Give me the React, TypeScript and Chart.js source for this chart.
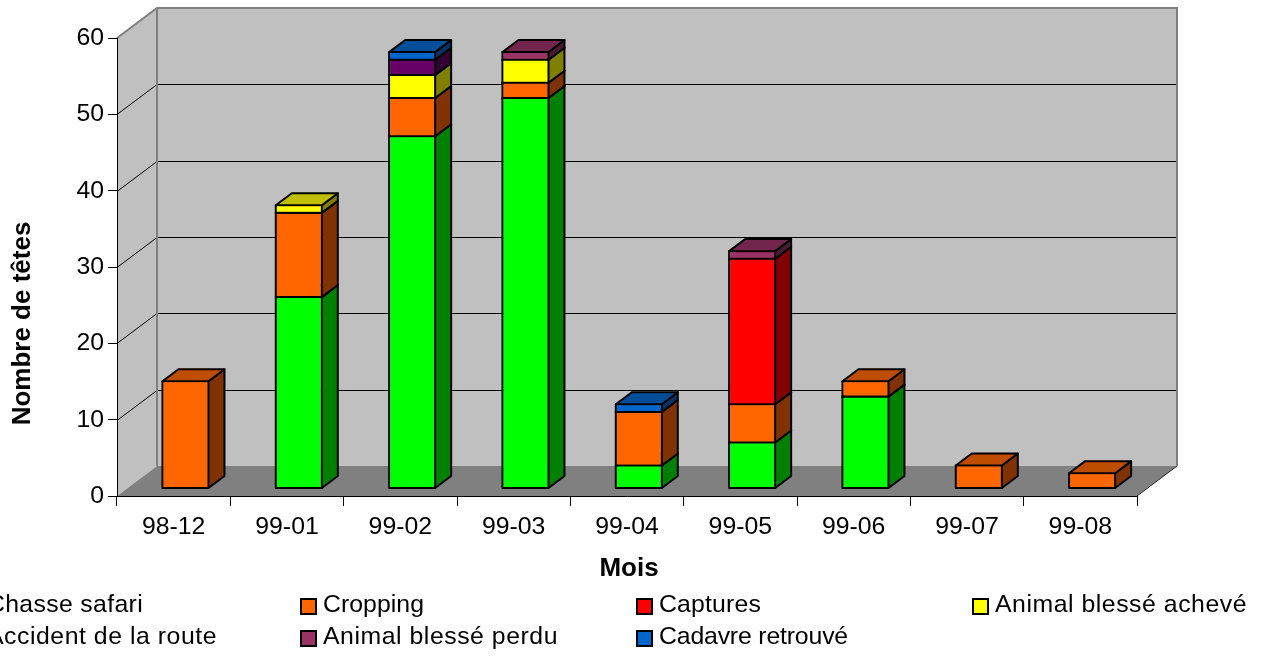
import React, { useEffect, useRef } from "react";
import { Chart, registerables } from "chart.js";

Chart.register(...registerables);

const months = ["98-12", "99-01", "99-02", "99-03", "99-04", "99-05", "99-06", "99-07", "99-08"];
const chasseSafari = [null, 25, 46, 51, 3, 6, 12, null, null];
const cropping = [14, 11, 5, 2, 7, 5, 2, 3, 2];
const captures = [null, null, null, null, null, 19, null, null, null];
const animalAcheve = [null, 1, 3, 3, null, null, null, null, null];
const accidentRoute = [null, null, 2, null, null, null, null, null, null];
const animalPerdu = [null, null, null, 1, null, 1, null, null, null];
const cadavreRetrouve = [null, null, 1, null, 1, null, null, null, null];

const xTitle = "Mois";
const yTitle = "Nombre de têtes";

const FONT = '"Liberation Sans", Arial, sans-serif';
const FS = 24.8;

const WALL_DX = 40;
const WALL_DY = -30;
const BAR_SHIFT_X = 11.8;
const BAR_SHIFT_Y = -7.5;
const BAR_SCALE_Y = 1.003;
const BAR_DX = 16;
const BAR_DY = -12;

function shade(hex: string, f: number) {
  const n = parseInt(hex.slice(1), 16);
  const r = Math.round(((n >> 16) & 255) * f);
  const g = Math.round(((n >> 8) & 255) * f);
  const b = Math.round((n & 255) * f);
  return `rgb(${r},${g},${b})`;
}

function poly(ctx: CanvasRenderingContext2D, pts: number[][], fill: string | null, stroke: string | null, lw = 1) {
  ctx.beginPath();
  pts.forEach((p, i) => (i ? ctx.lineTo(p[0], p[1]) : ctx.moveTo(p[0], p[1])));
  ctx.closePath();
  if (fill) {
    ctx.fillStyle = fill;
    ctx.fill();
  }
  if (stroke) {
    ctx.strokeStyle = stroke;
    ctx.lineWidth = lw;
    ctx.lineJoin = "round";
    ctx.stroke();
  }
}

function barTransform(chart: any) {
  const b = chart.chartArea.bottom;
  chart.ctx.translate(BAR_SHIFT_X, BAR_SHIFT_Y + b * (1 - BAR_SCALE_Y));
  chart.ctx.scale(1, BAR_SCALE_Y);
}

const walls3d = {
  id: "walls3d",
  beforeDraw(chart: any) {
    const { ctx, chartArea: a, scales } = chart;
    const { left: l, right: r, top: t, bottom: b } = a;
    ctx.save();
    const G = "#808080";
    poly(ctx, [[l, t], [l + WALL_DX, t + WALL_DY], [l + WALL_DX, b + WALL_DY], [l, b]], "#c0c0c0", null);
    poly(ctx, [[l + WALL_DX, t + WALL_DY], [r + WALL_DX, t + WALL_DY], [r + WALL_DX, b + WALL_DY], [l + WALL_DX, b + WALL_DY]], "#c0c0c0", null);
    poly(ctx, [[l, b], [l + WALL_DX, b + WALL_DY], [r + WALL_DX, b + WALL_DY], [r, b]], G, null);
    ctx.strokeStyle = "#000";
    ctx.lineWidth = 1;
    for (const tick of scales.y.ticks) {
      if (tick.value === 0 || tick.value === 60) continue;
      const y = Math.round(scales.y.getPixelForValue(tick.value)) + 0.5;
      ctx.beginPath();
      ctx.moveTo(l, y);
      ctx.lineTo(l + WALL_DX, y + WALL_DY);
      ctx.lineTo(r + WALL_DX, y + WALL_DY);
      ctx.stroke();
    }
    ctx.strokeStyle = G;
    ctx.lineWidth = 2;
    ctx.beginPath();
    ctx.moveTo(l, t);
    ctx.lineTo(l + WALL_DX, t + WALL_DY);
    ctx.lineTo(r + WALL_DX, t + WALL_DY);
    ctx.lineTo(r + WALL_DX, b + WALL_DY);
    ctx.moveTo(l + WALL_DX, t + WALL_DY);
    ctx.lineTo(l + WALL_DX, b + WALL_DY);
    ctx.stroke();
    ctx.strokeStyle = "#222";
    ctx.lineWidth = 1;
    ctx.beginPath();
    ctx.moveTo(r, b);
    ctx.lineTo(r + WALL_DX, b + WALL_DY);
    ctx.stroke();
    ctx.restore();
  },
};

const bars3d = {
  id: "bars3d",
  beforeDatasetsDraw(chart: any) {
    const ctx = chart.ctx;
    ctx.save();
    barTransform(chart);
    chart.data.datasets.forEach((ds: any, i: number) => {
      chart.getDatasetMeta(i).data.forEach((el: any, j: number) => {
        if (ds.data[j] == null) return;
        const w = el.width / 2;
        const xr = el.x + w;
        const xl = el.x - w;
        const yt = el.y;
        const yb = el.base;
        poly(ctx, [[xl, yb], [xr, yb], [xr, yt], [xl, yt]], null, "#000", 2);
        poly(ctx, [[xr, yb], [xr + BAR_DX, yb + BAR_DY], [xr + BAR_DX, yt + BAR_DY], [xr, yt]], shade(ds.backgroundColor, 0.5), "#000", 2);
        poly(ctx, [[xl, yt], [xl + BAR_DX, yt + BAR_DY], [xr + BAR_DX, yt + BAR_DY], [xr, yt]], shade(ds.backgroundColor, 0.75), "#000", 2);
      });
    });
    ctx.restore();
  },
  beforeDatasetDraw(chart: any) {
    chart.ctx.save();
    barTransform(chart);
  },
  afterDatasetDraw(chart: any) {
    chart.ctx.restore();
  },
};

const LEGEND_TEXT_X = [-13, 323, 659, 995];
const LEGEND_BASELINE_Y = [612, 644];
const LEGEND_TEXT_WIDTH = [156, 101, 102, 252, 230, 235, 189];

const labels3d = {
  id: "labels3d",
  afterDraw(chart: any) {
    const ctx = chart.ctx;
    ctx.save();
    ctx.fillStyle = "#000";
    ctx.textBaseline = "middle";
    ctx.font = `bold 26px ${FONT}`;
    ctx.textAlign = "center";
    ctx.fillText(xTitle, 629, 569);
    ctx.save();
    ctx.translate(23, 323.5);
    ctx.rotate(-Math.PI / 2);
    ctx.fillText(yTitle, 0, 0);
    ctx.restore();
    ctx.textAlign = "left";
    ctx.textBaseline = "alphabetic";
    ctx.font = `${FS}px ${FONT}`;
    chart.data.datasets.forEach((ds: any, i: number) => {
      const col = i % 4;
      const row = Math.floor(i / 4);
      const x = LEGEND_TEXT_X[col];
      const y = LEGEND_BASELINE_Y[row];
      ctx.fillStyle = ds.backgroundColor;
      ctx.strokeStyle = "#000";
      ctx.lineWidth = 2;
      ctx.beginPath();
      ctx.rect(x - 22, y - 13, 15, 15);
      ctx.fill();
      ctx.stroke();
      ctx.fillStyle = "#000";
      (ctx as any).letterSpacing = "0px";
      const measured = ctx.measureText(ds.label).width;
      (ctx as any).letterSpacing = `${(LEGEND_TEXT_WIDTH[i] - measured) / ds.label.length}px`;
      ctx.fillText(ds.label, x, y);
      (ctx as any).letterSpacing = "0px";
    });
    ctx.restore();
  },
};

export default function App() {
  const ref = useRef<HTMLCanvasElement>(null);
  useEffect(() => {
    const mk = (label: string, data: any[], backgroundColor: string) => ({
      label,
      data,
      backgroundColor,
      borderColor: "#000",
      borderWidth: 1,
      borderSkipped: false,
      barPercentage: 0.406,
      categoryPercentage: 1,
    });
    const chart = new Chart(ref.current as HTMLCanvasElement, {
      type: "bar",
      data: {
        labels: months,
        datasets: [
          mk("Chasse safari", chasseSafari, "#00ff00"),
          mk("Cropping", cropping, "#ff6600"),
          mk("Captures", captures, "#ff0000"),
          mk("Animal blessé achevé", animalAcheve, "#ffff00"),
          mk("Accident de la route", accidentRoute, "#660066"),
          mk("Animal blessé perdu", animalPerdu, "#993366"),
          mk("Cadavre retrouvé", cadavreRetrouve, "#0066cc"),
        ],
      } as any,
      options: {
        animation: false,
        responsive: false,
        devicePixelRatio: 1,
        layout: { padding: { left: 0, top: 38, right: 129, bottom: 0 } },
        plugins: { legend: { display: false }, tooltip: { enabled: false }, title: { display: false } },
        scales: {
          x: {
            stacked: true,
            afterFit: (s: any) => {
              s.height = 161;
            },
            border: { display: true, color: "#000", width: 1 },
            grid: { offset: true, drawOnChartArea: false, drawTicks: true, tickLength: 10, tickColor: "#000" },
            ticks: { color: "#000", font: { family: FONT, size: FS }, padding: 6, maxRotation: 0 },
          },
          y: {
            stacked: true,
            min: 0,
            max: 60,
            afterFit: (s: any) => {
              s.width = 117;
            },
            border: { display: true, color: "#000", width: 1 },
            grid: { drawOnChartArea: false, drawTicks: true, tickLength: 9, tickColor: "#000" },
            ticks: { stepSize: 10, color: "#000", font: { family: FONT, size: FS }, padding: 4 },
          },
        },
      } as any,
      plugins: [walls3d, bars3d, labels3d],
    });
    return () => chart.destroy();
  }, []);
  return <canvas ref={ref} width={1266} height={657} style={{ position: "absolute", left: 0, top: 0, width: 1266, height: 657 }} />;
}
